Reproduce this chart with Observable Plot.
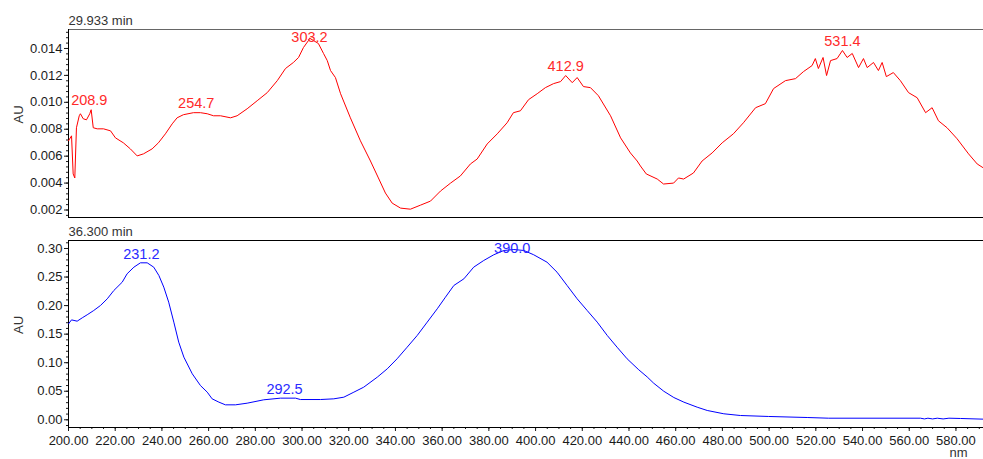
<!DOCTYPE html>
<html><head><meta charset="utf-8">
<script src="https://cdn.jsdelivr.net/npm/d3@7"></script>
<script src="https://cdn.jsdelivr.net/npm/@observablehq/plot@0.6"></script>
<style>
body{margin:0;background:#fff;}
#wrap{position:relative;width:983px;height:459px;overflow:hidden;background:#fff;}
#top,#bot{position:absolute;left:0;}
#top{top:0;}
#bot{top:225px;}
</style></head><body>
<div id="wrap"><div id="top"></div><div id="bot"></div></div>
<script>
// ---- Data ----
const topTitle = "29.933 min";
const botTitle = "36.300 min";
const yLabel = "AU";
const xUnit = "nm";

const redNm = [200.0,201.3,202.0,202.7,203.4,204.6,205.1,206.3,207.7,209.1,209.7,210.6,212.3,215.0,218.0,220.1,223.5,226.5,229.4,232.1,235.8,238.5,241.5,244.4,246.5,249.2,253.5,256.5,259.4,262.1,265.1,269.4,272.2,276.5,280.8,285.1,289.4,292.9,296.3,298.5,300.6,302.8,303.2,307.0,309.2,310.8,312.2,314.3,316.5,320.7,325.0,329.3,332.7,335.7,338.6,342.2,346.4,350.7,355.0,359.3,363.6,367.8,372.1,375.0,379.3,383.6,387.8,390.5,393.5,397.0,400.7,404.2,407.7,410.7,412.9,415.7,417.8,420.5,423.5,426.9,432.1,436.4,440.6,443.5,444.9,447.4,452.1,454.8,459.1,461.2,463.4,467.6,471.3,475.6,479.9,484.7,489.0,494.2,498.4,501.9,507.0,511.3,514.7,518.4,519.8,521.1,523.1,524.6,526.3,529.1,531.4,533.4,535.6,538.3,540.4,542.0,544.7,546.8,548.4,550.2,553.2,556.2,559.7,563.4,567.0,569.8,572.5,576.2,580.5,585.4,589.1,591.8];
const redAU = [0.00714,0.00751,0.00468,0.00438,0.00811,0.0090,0.00915,0.00878,0.0087,0.00915,0.00945,0.00811,0.00803,0.00803,0.00788,0.00736,0.00699,0.00654,0.00602,0.00617,0.00654,0.00699,0.00766,0.0084,0.00885,0.00908,0.00923,0.00923,0.00915,0.0090,0.0090,0.00885,0.0090,0.00952,0.01012,0.01072,0.01161,0.01251,0.01296,0.01333,0.01407,0.0146,0.01477,0.01437,0.01363,0.0131,0.01236,0.01184,0.01064,0.00885,0.00714,0.00564,0.00438,0.00326,0.00251,0.00214,0.00206,0.00236,0.00266,0.00341,0.0040,0.00453,0.00542,0.00579,0.00691,0.00766,0.00848,0.00923,0.00937,0.0102,0.01064,0.01109,0.01139,0.01154,0.01199,0.01146,0.01184,0.01117,0.01109,0.01049,0.0090,0.00736,0.00624,0.00564,0.00527,0.00468,0.0043,0.00393,0.0040,0.00438,0.0043,0.00475,0.00564,0.00624,0.00699,0.00766,0.00848,0.0096,0.0099,0.01102,0.01161,0.01176,0.01228,0.01273,0.01325,0.01251,0.01333,0.01199,0.0131,0.01325,0.01385,0.01333,0.01363,0.01258,0.01325,0.01258,0.01296,0.01236,0.01296,0.01191,0.01221,0.01161,0.01072,0.01034,0.00923,0.0096,0.00863,0.00811,0.00729,0.00617,0.00542,0.00512];

const redPeakNm = [208.9, 254.7, 303.2, 412.9, 531.4];
const redPeakAU = [0.00945, 0.00923, 0.01477, 0.01199, 0.01385];

const blueNm = [200.0,201.3,203.7,205.9,208.0,210.8,213.7,216.6,219.4,223.0,225.1,228.0,230.8,233.7,236.5,238.7,240.8,242.9,245.1,247.2,249.4,253.0,256.5,259.4,261.5,264.4,267.2,271.5,276.5,283.6,290.8,297.2,299.3,307.9,313.6,317.9,322.2,326.4,332.2,336.5,340.7,345.0,349.3,353.6,357.9,361.4,365.0,369.3,373.5,377.8,382.1,386.4,390.7,395.0,399.2,404.9,409.2,413.5,417.8,422.1,426.4,430.7,434.9,439.2,444.2,447.8,450.6,454.9,459.2,463.5,469.2,473.5,480.6,487.7,499.8,516.3,525.5,564.8,566.5,568.0,570.0,572.0,574.5,577.0,581.9,591.8];
const blueAU = [0.168,0.175,0.1727,0.1786,0.1839,0.1914,0.2002,0.2119,0.2264,0.241,0.2557,0.2673,0.2749,0.2749,0.2673,0.2527,0.2323,0.206,0.171,0.136,0.1097,0.0805,0.060,0.0484,0.0367,0.0309,0.0262,0.0262,0.0291,0.035,0.0379,0.0379,0.0355,0.0355,0.0367,0.0396,0.0484,0.0571,0.0746,0.0893,0.1068,0.1271,0.1476,0.171,0.1944,0.2147,0.2352,0.2469,0.2673,0.279,0.289,0.2965,0.2982,0.2965,0.289,0.276,0.2585,0.2352,0.2119,0.1914,0.171,0.1476,0.1271,0.1068,0.0875,0.0750,0.0640,0.0500,0.0390,0.0309,0.0221,0.0163,0.0105,0.0075,0.0058,0.004,0.0028,0.0028,0.0015,0.0028,0.0015,0.0028,0.0015,0.0028,0.0023,0.0011];

const bluePeakNm = [231.2, 292.5, 390.0];
const bluePeakAU = [0.2749, 0.0379, 0.2982];

const xTicks = d3.range(200, 581, 20);
const xMinor = d3.range(200, 592, 5);
const topTicks = [0.002, 0.004, 0.006, 0.008, 0.010, 0.012, 0.014];
const topMinor = d3.range(16, 154, 4).map(v => v / 10000);
const botTicks = [0.00, 0.05, 0.10, 0.15, 0.20, 0.25, 0.30];
const botMinor = d3.range(-1, 32, 1).map(v => v / 100);

// ---- Layout ----
const FONT = "'Liberation Sans', Arial, sans-serif";
const W = 983;
const xDomain = [200, 591.8];
const topDomain = [0.001443, 0.01541];
const botDomain = [-0.0135, 0.314];
const RED = "#ff0000", BLUE = "#0000ff";

const red = redNm.map((x, i) => ({x, y: redAU[i]}));
const blue = blueNm.map((x, i) => ({x, y: blueAU[i]}));

function labelRows(nms, aus, domain, frameH, offPx, clampPx) {
  const k = frameH / (domain[1] - domain[0]);
  return nms.map((x, i) => ({
    x,
    y: Math.min(aus[i] + offPx / k, domain[1] - clampPx / k),
    t: x.toFixed(1)
  }));
}

const topH = 225, topMT = 29, topMB = 8;
const botH = 234, botMT = 15, botMB = 32;
const redLab = labelRows(redPeakNm, redPeakAU, topDomain, topH - topMT - topMB, 9.5, 8);
const blueLab = labelRows(bluePeakNm, bluePeakAU, botDomain, botH - botMT - botMB, 8.5, 7.7);

const style = {fontFamily: FONT, fontSize: "13px", color: "#1a1a1a", background: "white", overflow: "visible"};

const topPlot = Plot.plot({
  width: W, height: topH, marginLeft: 68, marginRight: 0, marginTop: topMT, marginBottom: topMB,
  style,
  x: {domain: xDomain, axis: null},
  y: {domain: topDomain},
  marks: [
    Plot.axisY({ticks: topTicks, tickFormat: d3.format(".3f"), tickSize: 4, tickPadding: 2, label: null}),
    Plot.axisY({ticks: topMinor, tickSize: 2, tickFormat: () => "", label: null}),
    Plot.ruleY([topDomain[1]], {stroke: "#666"}),
    Plot.ruleY([topDomain[0]], {stroke: "#000"}),
    Plot.ruleX([xDomain[0]], {stroke: "#000"}),
    Plot.line(red, {x: "x", y: "y", stroke: RED, strokeWidth: 1, clip: true}),
    Plot.text(redLab, {x: "x", y: "y", text: "t", fill: "#ff2a2a", fontSize: 14.5}),
    Plot.text([topTitle], {text: d => d, frameAnchor: "top-left", textAnchor: "start", lineAnchor: "middle", dy: -9, fill: "#333"}),
    Plot.text([yLabel], {text: d => d, frameAnchor: "left", lineAnchor: "middle", dx: -50, rotate: -90, fill: "#333"})
  ]
});
document.getElementById("top").append(topPlot);

const botPlot = Plot.plot({
  width: W, height: botH, marginLeft: 68, marginRight: 0, marginTop: botMT, marginBottom: botMB,
  style,
  x: {domain: xDomain},
  y: {domain: botDomain},
  marks: [
    Plot.axisY({ticks: botTicks, tickFormat: d3.format(".2f"), tickSize: 4, tickPadding: 2, label: null}),
    Plot.axisY({ticks: botMinor.filter(v => v >= botDomain[0] && v <= botDomain[1]), tickSize: 2, tickFormat: () => "", label: null}),
    Plot.axisX({ticks: xTicks, tickFormat: d3.format(".2f"), tickSize: 4, tickPadding: 4, label: null}),
    Plot.axisX({ticks: xMinor, tickSize: 2, tickFormat: () => "", label: null}),
    Plot.ruleY([botDomain[1]], {stroke: "#000"}),
    Plot.ruleY([botDomain[0]], {stroke: "#000"}),
    Plot.ruleX([xDomain[0]], {stroke: "#000"}),
    Plot.line(blue, {x: "x", y: "y", stroke: BLUE, strokeWidth: 1, clip: true}),
    Plot.text(blueLab, {x: "x", y: "y", text: "t", fill: "#2a2aff", fontSize: 14.5}),
    Plot.text([botTitle], {text: d => d, frameAnchor: "top-left", textAnchor: "start", lineAnchor: "middle", dy: -8.3, fill: "#333"}),
    Plot.text([yLabel], {text: d => d, frameAnchor: "left", lineAnchor: "middle", dx: -50, rotate: -90, fill: "#333"}),
    Plot.text([xUnit], {text: d => d, frameAnchor: "bottom-right", lineAnchor: "middle", dx: -16, dy: 25, fill: "#333"})
  ]
});
document.getElementById("bot").append(botPlot);
</script>
</body></html>
